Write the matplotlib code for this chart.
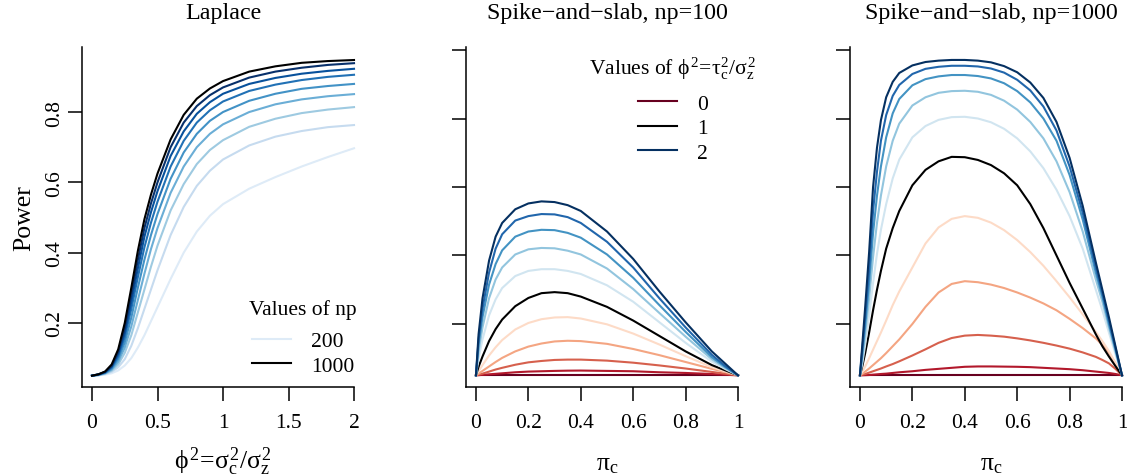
import matplotlib
matplotlib.use("Agg")
import matplotlib.pyplot as plt

plt.rcParams['font.family'] = ['Liberation Serif', 'DejaVu Serif']
plt.rcParams['mathtext.fontset'] = 'custom'
plt.rcParams['mathtext.rm'] = 'Liberation Serif'
plt.rcParams['mathtext.it'] = 'Liberation Serif'
plt.rcParams['mathtext.bf'] = 'Liberation Serif'

# ---- Laplace panel: power vs phi^2, one curve per np ----
np_values = [200, 300, 400, 500, 600, 700, 800, 900, 1000]
phi2_grid = [0, .05, .1, .15, .2, .25, .3, .35, .4, .45, .5, .6, .7, .8, .9, 1.0, 1.2, 1.4, 1.6, 1.8, 2.0]
power_laplace = [
    [.05, .051, .053, .057, .065, .079, .100, .130, .165, .205, .245, .325, .400, .460, .505, .538, .582, .615, .645, .672, .697],
    [.05, .051, .055, .061, .074, .097, .135, .185, .240, .295, .350, .450, .530, .590, .633, .665, .705, .730, .746, .757, .763],
    [.05, .052, .056, .064, .082, .115, .165, .230, .295, .360, .420, .520, .595, .652, .692, .720, .758, .781, .797, .807, .814],
    [.05, .052, .057, .067, .090, .130, .190, .265, .340, .410, .470, .570, .645, .700, .738, .765, .800, .822, .836, .845, .851],
    [.05, .053, .058, .070, .098, .145, .215, .300, .380, .450, .510, .610, .685, .738, .775, .800, .832, .852, .866, .874, .880],
    [.05, .053, .059, .073, .105, .160, .240, .330, .415, .485, .545, .645, .718, .770, .805, .830, .860, .878, .891, .900, .906],
    [.05, .054, .060, .076, .112, .172, .260, .355, .445, .515, .575, .675, .745, .795, .828, .852, .880, .897, .909, .917, .923],
    [.05, .054, .061, .078, .118, .185, .280, .380, .470, .540, .600, .700, .770, .817, .848, .870, .898, .915, .926, .934, .939],
    [.05, .054, .062, .082, .125, .200, .300, .405, .495, .565, .625, .722, .792, .838, .867, .888, .915, .930, .940, .945, .948],
]
laplace_colors = ['#DEEBF7', '#C6DBEF', '#9ECAE1', '#6BAED6', '#4292C6',
                  '#2171B5', '#08519C', '#08306B', 'black']

# ---- Spike-and-slab panels: power vs pi_c, one curve per phi^2 ----
phi2_values = [0, 0.2, 0.4, 0.6, 0.8, 1.0, 1.2, 1.4, 1.6, 1.8, 2.0]
ss_colors = ['#67001F', '#B2182B', '#D6604D', '#F4A582', '#FDDBC7', 'black',
             '#D1E5F0', '#92C5DE', '#4393C3', '#2166AC', '#053061']

pi_grid_100 = [0, .01, .025, .05, .075, .1, .15, .2, .25, .3, .35, .4, .5, .6, .7, .8, .9, .95, 1]
power_np100 = [
    [.05, .05, .05, .05, .05, .05, .05, .05, .05, .05, .05, .05, .05, .05, .05, .05, .05, .05, .05],
    [.05, .0505, .0515, .053, .0545, .056, .059, .061, .062, .063, .0637, .064, .063, .062, .059, .057, .054, .052, .05],
    [.05, .052, .055, .061, .067, .072, .081, .088, .092, .095, .096, .096, .093, .087, .079, .070, .060, .055, .05],
    [.05, .055, .063, .076, .089, .101, .120, .134, .143, .149, .151, .150, .142, .127, .109, .089, .069, .060, .05],
    [.05, .062, .080, .108, .132, .153, .184, .203, .214, .219, .220, .216, .199, .172, .140, .106, .074, .062, .05],
    [.05, .075, .105, .150, .185, .213, .252, .276, .290, .293, .290, .280, .250, .210, .165, .120, .080, .065, .05],
    [.05, .100, .155, .225, .272, .305, .340, .355, .360, .360, .355, .346, .313, .265, .205, .145, .090, .069, .05],
    [.05, .120, .190, .275, .330, .365, .403, .418, .422, .421, .414, .403, .362, .302, .232, .163, .097, .072, .05],
    [.05, .140, .220, .315, .375, .415, .455, .470, .475, .474, .466, .452, .403, .335, .255, .177, .103, .075, .05],
    [.05, .155, .245, .350, .420, .462, .502, .515, .521, .520, .512, .495, .440, .365, .275, .190, .110, .078, .05],
    [.05, .170, .275, .385, .455, .495, .535, .552, .558, .556, .547, .530, .470, .390, .295, .205, .120, .085, .05],
]

pi_grid_1000 = [0, .01, .02, .035, .05, .065, .08, .1, .125, .15, .2, .25, .3, .35, .4, .45,
                .5, .55, .6, .65, .7, .75, .8, .85, .9, .925, .95, .975, 1]
power_np1000 = [
    [.05, .05, .05, .05, .05, .05, .05, .05, .05, .05, .05, .05, .05, .05, .05, .05,
     .05, .05, .05, .05, .05, .05, .05, .05, .05, .05, .05, .05, .05],
    [.05, .0502, .0505, .051, .052, .053, .054, .055, .057, .059, .062, .066, .069, .072, .075, .076,
     .076, .0755, .075, .074, .072, .070, .068, .065, .061, .059, .057, .054, .05],
    [.05, .052, .054, .058, .062, .066, .070, .076, .083, .091, .108, .126, .145, .159, .166, .168,
     .166, .163, .158, .152, .145, .137, .128, .117, .104, .095, .085, .069, .05],
    [.05, .055, .061, .070, .080, .090, .100, .115, .135, .155, .200, .250, .292, .317, .325, .322,
     .315, .305, .292, .277, .260, .240, .215, .188, .158, .139, .116, .085, .05],
    [.05, .062, .076, .100, .125, .150, .175, .210, .255, .295, .365, .435, .482, .507, .515, .510,
     .496, .474, .445, .410, .370, .325, .278, .228, .177, .150, .121, .086, .05],
    [.05, .080, .115, .175, .240, .300, .355, .420, .480, .530, .605, .650, .675, .688, .687, .679,
     .664, .640, .605, .550, .480, .400, .320, .245, .170, .135, .105, .077, .05],
    [.05, .090, .140, .225, .320, .405, .475, .550, .625, .680, .745, .778, .796, .804, .805, .800,
     .789, .770, .742, .704, .655, .592, .515, .420, .300, .240, .175, .112, .05],
    [.05, .105, .170, .275, .395, .495, .575, .660, .735, .785, .838, .862, .875, .880, .881, .878,
     .869, .852, .826, .790, .742, .675, .585, .470, .330, .265, .190, .120, .05],
    [.05, .120, .195, .320, .465, .575, .660, .745, .815, .857, .897, .915, .923, .927, .927, .924,
     .917, .903, .880, .847, .800, .735, .635, .505, .350, .280, .200, .125, .05],
    [.05, .135, .220, .360, .530, .645, .735, .810, .866, .898, .930, .945, .951, .954, .954, .952,
     .946, .934, .913, .882, .835, .765, .660, .525, .365, .290, .210, .130, .05],
    [.05, .150, .250, .410, .600, .715, .795, .862, .907, .933, .955, .965, .969, .971, .971, .969,
     .964, .953, .935, .905, .860, .790, .685, .545, .380, .300, .220, .135, .05],
]

FS = 15.5
LFS = 18.5
fig = plt.figure(figsize=(11.27, 4.77), dpi=100)
W, H = 1127, 477
ax_w, ax_h = 282.5 / W, 340 / H
ax_bottom = 89 / H
ax1 = fig.add_axes([82 / W, ax_bottom, ax_w, ax_h])
ax2 = fig.add_axes([466 / W, ax_bottom, ax_w, ax_h])
ax3 = fig.add_axes([850 / W, ax_bottom, ax_w, ax_h])


def style(ax, xlim, ylim, xticks, xticklabels, yticks, ylabels):
    ax.set_xlim(*xlim)
    ax.set_ylim(*ylim)
    for s in ['top', 'right']:
        ax.spines[s].set_visible(False)
    for s in ['left', 'bottom']:
        ax.spines[s].set_linewidth(1.1)
    ax.spines['bottom'].set_bounds(xlim[0], xticks[-1])
    ax.set_xticks(xticks)
    ax.set_xticklabels(xticklabels)
    ax.set_yticks(yticks)
    if ylabels:
        ax.set_yticklabels(ylabels, rotation=90, va='center')
    else:
        ax.set_yticklabels([])
    ax.tick_params(length=10, width=1.1, labelsize=FS, direction='out')
    ax.tick_params(axis='x', pad=9)
    ax.tick_params(axis='y', pad=3)


def legend(ax, handles, labels, title, x, y):
    leg = ax.legend(handles, labels, title=title, frameon=False, fontsize=FS,
                    title_fontsize=FS, loc='upper center',
                    bbox_to_anchor=(x / W, 1 - y / H), bbox_transform=fig.transFigure,
                    handlelength=1.8, handletextpad=0.95, labelspacing=0.2,
                    borderaxespad=0, borderpad=0)
    leg._legend_box.sep = 9
    return leg


# Laplace
lines1 = []
for vals, col in zip(power_laplace, laplace_colors):
    ln, = ax1.plot(phi2_grid, vals, color=col, lw=1.5)
    lines1.append(ln)
style(ax1, (-0.0763, 2.08), (0.0179, 0.985), [0, 0.5, 1, 1.5, 2],
      ['0', '0.5', '1', '1.5', '2'], [0.2, 0.4, 0.6, 0.8], ['0.2', '0.4', '0.6', '0.8'])
ax1.set_title('Laplace', fontsize=17.3, pad=21)
ax1.set_ylabel('Power', fontsize=LFS, labelpad=7)
ax1.set_xlabel(r'$\phi^2\!=\!\sigma_c^2/\sigma_z^2$', fontsize=LFS, labelpad=9)
legend(ax1, [lines1[0], lines1[-1]], ['200', '1000'], 'Values of np', 303, 300)

# Spike-and-slab np=100
lines2 = []
for vals, col in zip(power_np100, ss_colors):
    ln, = ax2.plot(pi_grid_100, vals, color=col, lw=1.5)
    lines2.append(ln)
pi_ticks = [0, 0.2, 0.4, 0.6, 0.8, 1]
pi_labels = ['0', '0.2', '0.4', '0.6', '0.8', '1']
style(ax2, (-0.038, 1.04), (0.016, 1.0088), pi_ticks, pi_labels,
      [0.2, 0.4, 0.6, 0.8, 1.0], None)
ax2.set_title('Spike\u2212and\u2212slab, np=100', fontsize=17.3, pad=21)
ax2.set_xlabel(r'$\pi_c$', fontsize=LFS, labelpad=15)
legend(ax2, [lines2[0], lines2[5], lines2[10]], ['0', '1', '2'],
       r'Values of $\phi^2\!=\!\tau_c^2/\sigma_z^2$', 673, 56)

# Spike-and-slab np=1000
for vals, col in zip(power_np1000, ss_colors):
    ax3.plot(pi_grid_1000, vals, color=col, lw=1.5)
style(ax3, (-0.038, 1.04), (0.016, 1.0088), pi_ticks, pi_labels,
      [0.2, 0.4, 0.6, 0.8, 1.0], None)
ax3.set_title('Spike\u2212and\u2212slab, np=1000', fontsize=17.3, pad=21)
ax3.set_xlabel(r'$\pi_c$', fontsize=LFS, labelpad=15)

fig.savefig('out.png', dpi=100)
